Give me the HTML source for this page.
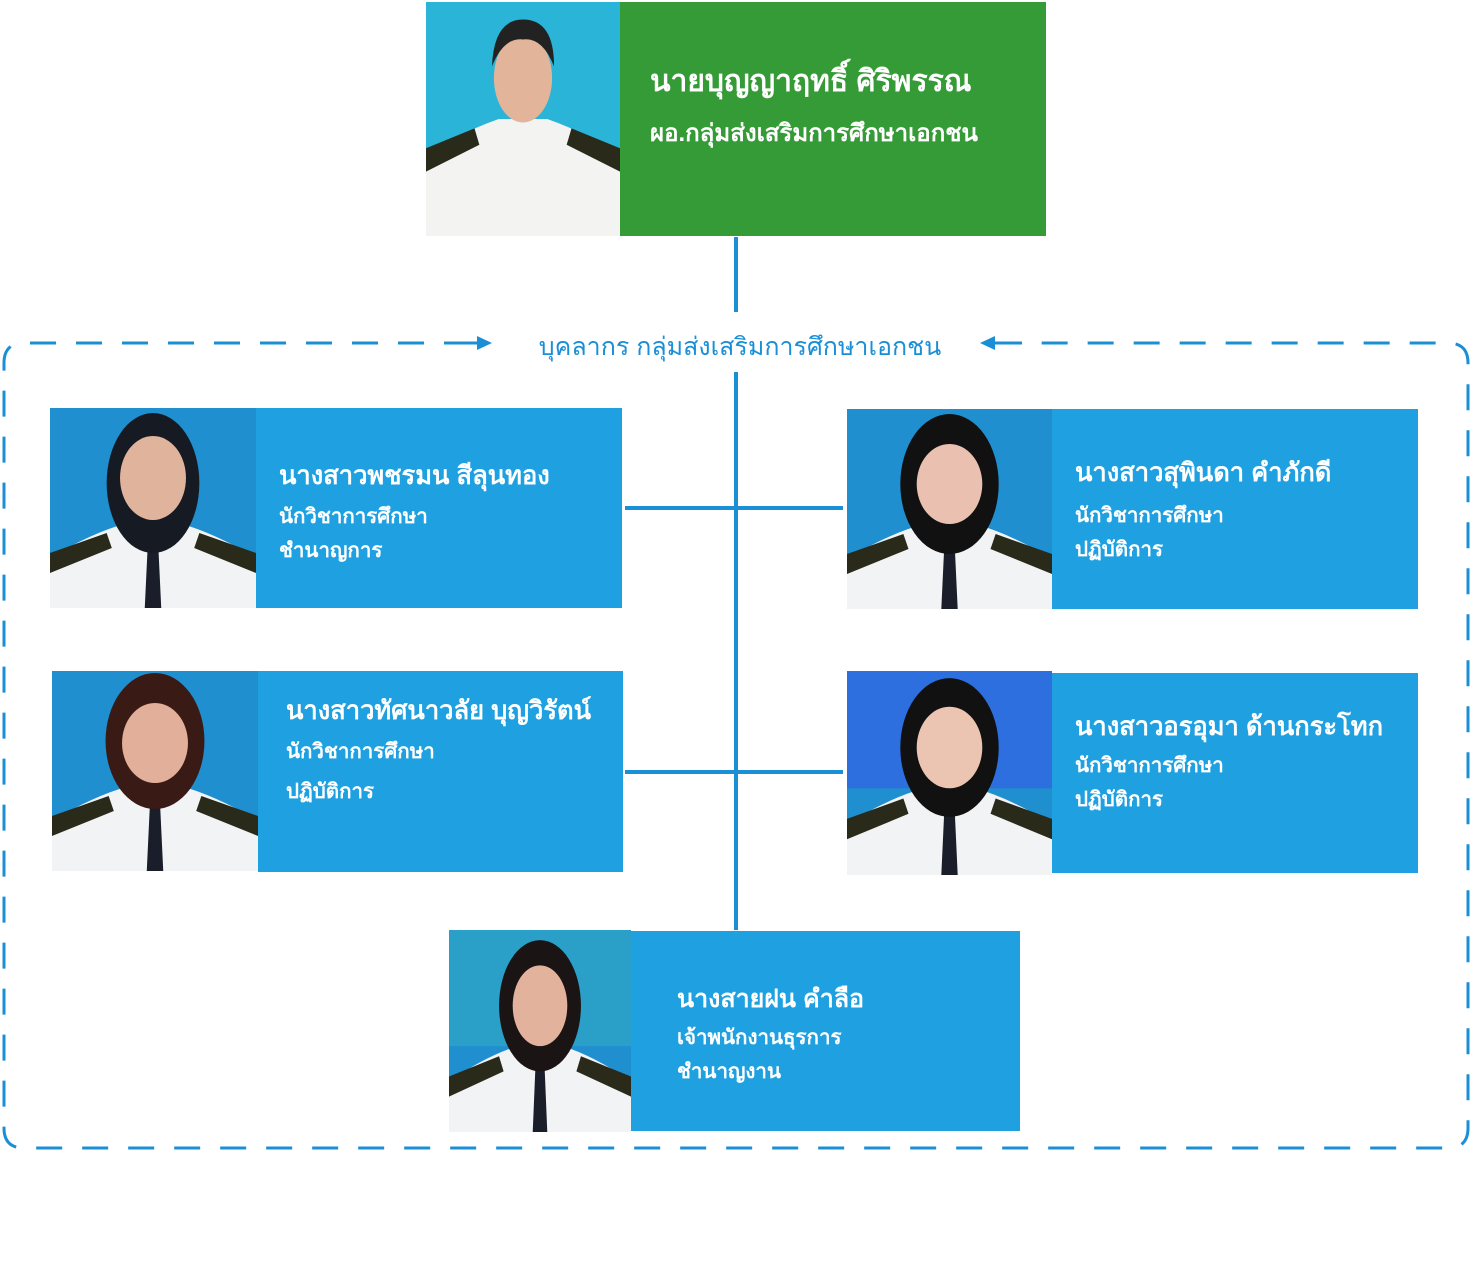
<!DOCTYPE html>
<html><head><meta charset="utf-8">
<style>
html,body{margin:0;padding:0;background:#fff;width:1472px;height:1274px;overflow:hidden;position:relative;font-family:"Liberation Sans","DejaVu Sans",sans-serif}
.a{position:absolute}
.card{position:absolute;color:#fff;box-sizing:border-box}
.blue{background:#1fa1e1}
.nm{font-size:25.5px;font-weight:bold;white-space:nowrap}
.sb{font-size:20.5px;font-weight:bold;white-space:nowrap;line-height:34px}
.ph{position:absolute}
.ln{position:absolute;background:#1b8fd6}
</style></head><body>

<svg class="a" style="left:0;top:0" width="1472" height="1274">
<defs>
<g id="p">
<rect width="200" height="200" fill="#1f8fd0"/>
<path d="M0 150 Q40 125 75 115 L125 115 Q160 125 200 150 L200 200 L0 200Z" fill="#f2f3f5"/>
<path d="M0 145 L55 125 L60 140 L0 165Z" fill="#2a2a1a"/>
<path d="M200 145 L145 125 L140 140 L200 165Z" fill="#2a2a1a"/>
<rect x="85" y="100" width="30" height="25" fill="#e8b8a0"/>
<path d="M95 135 L105 135 L108 200 L92 200Z" fill="#1a1e2a"/>
</g>
</defs>
<path d="M470 343 L24 343 Q4 343 4 363 L4 1128 Q4 1148 24 1148 L1448 1148 Q1468 1148 1468 1128 L1468 363 Q1468 343 1448 343 L1020 343" fill="none" stroke="#1b8fd6" stroke-width="3" stroke-dasharray="26 20"/>
<line x1="450" y1="343" x2="480" y2="343" stroke="#1b8fd6" stroke-width="3"/>
<path d="M477 336 L492 343 L477 350Z" fill="#1b8fd6"/>
<line x1="990" y1="343" x2="1022" y2="343" stroke="#1b8fd6" stroke-width="3"/>
<path d="M995 336 L980 343 L995 350Z" fill="#1b8fd6"/>
</svg>

<div class="ln" style="left:734px;top:237px;width:4px;height:75px"></div>
<div class="ln" style="left:734px;top:372px;width:4px;height:558px"></div>
<div class="ln" style="left:625px;top:506px;width:218px;height:4px"></div>
<div class="ln" style="left:625px;top:770px;width:218px;height:4px"></div>

<div class="a" style="left:0;top:327px;width:1472px;text-align:center;font-size:25px;color:#1b8fd6;padding-left:4px">บุคลากร กลุ่มส่งเสริมการศึกษาเอกชน</div>

<svg class="ph" style="left:426px;top:2px" width="194" height="234" viewBox="0 0 200 200" preserveAspectRatio="none"><rect width="200" height="200" fill="#29b4d8"/><path d="M0 130 Q40 110 75 100 L125 100 Q160 110 200 130 L200 200 L0 200Z" fill="#f3f3f1"/><path d="M0 125 L50 108 L55 122 L0 145Z" fill="#2a2a1a"/><path d="M200 125 L150 108 L145 122 L200 145Z" fill="#2a2a1a"/><ellipse cx="100" cy="65" rx="30" ry="38" fill="#e2b49a"/><path d="M68 55 Q70 15 100 15 Q132 15 132 55 Q120 30 100 32 Q80 30 68 55Z" fill="#222"/></svg>
<div class="card" style="left:620px;top:2px;width:426px;height:234px;background:#359b36;padding:56px 0 0 30px">
<div style="font-size:30px;font-weight:bold;white-space:nowrap">นายบุญญาฤทธิ์ ศิริพรรณ</div>
<div style="font-size:24px;font-weight:bold;white-space:nowrap;margin-top:8px">ผอ.กลุ่มส่งเสริมการศึกษาเอกชน</div>
</div>

<svg class="ph" style="left:50px;top:408px" width="206" height="200" viewBox="0 0 200 200" preserveAspectRatio="none"><use href="#p"/><ellipse cx="100" cy="75" rx="45" ry="70" fill="#161a22"/><ellipse cx="100" cy="70" rx="32" ry="42" fill="#e0b49c"/></svg>
<div class="card blue" style="left:256px;top:408px;width:366px;height:200px;padding:48px 0 0 23px"><div class="nm">นางสาวพชรมน สีลุนทอง</div><div class="sb" style="margin-top:4px">นักวิชาการศึกษา</div><div class="sb">ชำนาญการ</div></div>

<svg class="ph" style="left:847px;top:409px" width="205" height="200" viewBox="0 0 200 200" preserveAspectRatio="none"><use href="#p"/><ellipse cx="100" cy="75" rx="48" ry="70" fill="#111"/><ellipse cx="100" cy="75" rx="32" ry="40" fill="#eac0b0"/></svg>
<div class="card blue" style="left:1052px;top:409px;width:366px;height:200px;padding:44px 0 0 23px"><div class="nm">นางสาวสุพินดา คำภักดี</div><div class="sb" style="margin-top:6px">นักวิชาการศึกษา</div><div class="sb">ปฏิบัติการ</div></div>

<svg class="ph" style="left:52px;top:671px" width="206" height="200" viewBox="0 0 200 200" preserveAspectRatio="none"><use href="#p"/><ellipse cx="100" cy="70" rx="48" ry="68" fill="#3a1a14"/><ellipse cx="100" cy="72" rx="32" ry="40" fill="#e2b09a"/></svg>
<div class="card blue" style="left:258px;top:671px;width:365px;height:201px;padding:20px 0 0 28px"><div class="nm">นางสาวทัศนาวลัย บุญวิรัตน์</div><div class="sb" style="margin-top:4px">นักวิชาการศึกษา</div><div class="sb" style="margin-top:6px">ปฏิบัติการ</div></div>

<svg class="ph" style="left:847px;top:671px" width="205" height="204" viewBox="0 0 200 200" preserveAspectRatio="none"><use href="#p"/><rect width="200" height="115" fill="#2e6fe0"/><ellipse cx="100" cy="75" rx="48" ry="68" fill="#111"/><ellipse cx="100" cy="75" rx="32" ry="40" fill="#ecc4b2"/></svg>
<div class="card blue" style="left:1052px;top:673px;width:366px;height:200px;padding:34px 0 0 23px"><div class="nm">นางสาวอรอุมา ด้านกระโทก</div><div class="sb" style="margin-top:2px">นักวิชาการศึกษา</div><div class="sb">ปฏิบัติการ</div></div>

<svg class="ph" style="left:449px;top:930px" width="182" height="202" viewBox="0 0 200 200" preserveAspectRatio="none"><use href="#p"/><rect width="200" height="115" fill="#2aa0c8"/><ellipse cx="100" cy="75" rx="45" ry="65" fill="#1a1414"/><ellipse cx="100" cy="75" rx="30" ry="40" fill="#e2b29c"/></svg>
<div class="card blue" style="left:631px;top:931px;width:389px;height:200px;padding:48px 0 0 46px"><div class="nm" style="font-size:25px">นางสายฝน คำลือ</div><div class="sb" style="margin-top:2px">เจ้าพนักงานธุรการ</div><div class="sb">ชำนาญงาน</div></div>

</body></html>
